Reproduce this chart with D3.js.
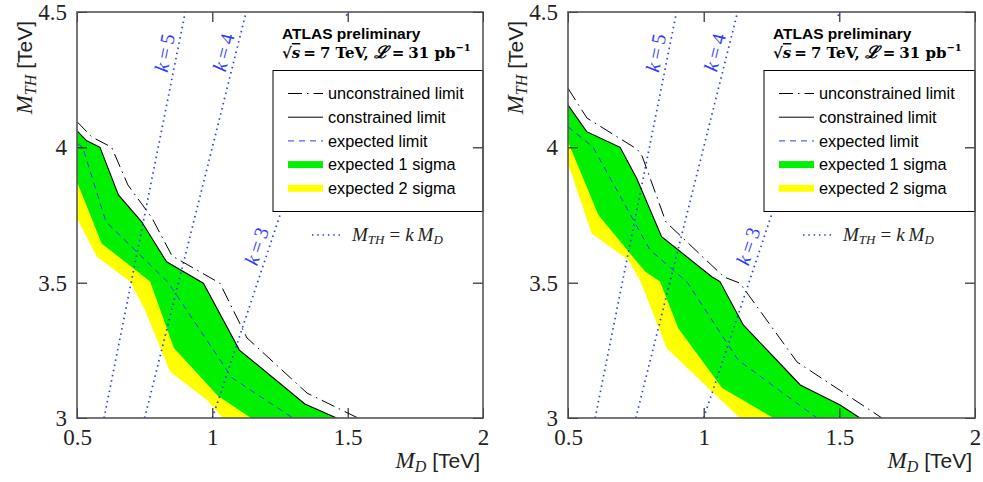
<!DOCTYPE html>
<html>
<head>
<meta charset="utf-8">
<script src="https://cdn.jsdelivr.net/npm/d3@7"></script>
<style>
  body { margin: 0; background: #fff; }
  svg { display: block; }
</style>
</head>
<body>
<svg id="chart" width="983" height="482"></svg>
<script>
var mdTicks = [0.5, 1, 1.5, 2];
var mthTicks = [3, 3.5, 4, 4.5];
var kValues = [5, 4, 3];

// left plot, [M_D, M_TH] in TeV
var leftUnconstrained = [[0.5, 4.095], [0.554, 4.039], [0.628, 4.0], [0.688, 3.861], [0.777, 3.739], [0.851, 3.599], [1.028, 3.498], [1.128, 3.296], [1.35, 3.092], [1.538, 3.0]];
var leftConstrained = [[0.5, 4.061], [0.536, 4.024], [0.585, 4.0], [0.653, 3.824], [0.739, 3.725], [0.831, 3.577], [0.967, 3.498], [1.1, 3.251], [1.342, 3.052], [1.459, 3.0]];
var leftExpected = [[0.5, 4.015], [0.521, 4.0], [0.607, 3.725], [0.836, 3.502], [1.073, 3.148], [1.298, 3.0]];
var leftSigma1Low = [[0.5, 3.873], [0.591, 3.645], [0.77, 3.504], [0.858, 3.259], [1.021, 3.081], [1.143, 3.0]];
var leftSigma2Low = [[0.5, 3.738], [0.573, 3.596], [0.696, 3.504], [0.751, 3.399], [0.844, 3.171], [0.979, 3.067], [1.039, 3.0]];

// right plot
var rightUnconstrained = [[0.5, 4.218], [0.57, 4.108], [0.755, 3.993], [0.773, 3.968], [0.861, 3.724], [1.075, 3.521], [1.134, 3.498], [1.344, 3.207], [1.657, 3.0]];
var rightConstrained = [[0.5, 4.156], [0.569, 4.058], [0.692, 4.0], [0.753, 3.886], [0.845, 3.67], [1.03, 3.522], [1.06, 3.504], [1.146, 3.344], [1.356, 3.122], [1.503, 3.048], [1.576, 3.0]];
var rightExpected = [[0.5, 4.076], [0.592, 4.001], [0.802, 3.621], [0.939, 3.502], [1.127, 3.214], [1.418, 3.0]];
var rightSigma1Low = [[0.5, 4.021], [0.612, 3.75], [0.784, 3.541], [0.839, 3.504], [0.907, 3.331], [1.068, 3.111], [1.257, 3.0]];
var rightSigma2Low = [[0.5, 3.941], [0.587, 3.682], [0.722, 3.584], [0.765, 3.51], [0.864, 3.258], [1.011, 3.116], [1.134, 3.0]];

var legendLabels = ["unconstrained limit", "constrained limit", "expected limit", "expected 1 sigma", "expected 2 sigma"];

var GREEN = "#00f000";
var YELLOW = "#ffff00";
var BLUE = "#2a3cff";
var SERIF = "'Liberation Serif', 'DejaVu Serif', serif";
var SANS = "'Liberation Sans', Arial, sans-serif";
var DOTS = "1.5,3.8";

var svg = d3.select("#chart");

drawPanel(0, [77, 483], {
  unc: leftUnconstrained, con: leftConstrained, exp: leftExpected,
  s1: leftSigma1Low, s2: leftSigma2Low
});
drawPanel(1, [568, 975], {
  unc: rightUnconstrained, con: rightConstrained, exp: rightExpected,
  s1: rightSigma1Low, s2: rightSigma2Low
});

function drawPanel(idx, xRange, d) {
  var top = 12, bottom = 418;
  var x = d3.scaleLinear().domain([0.5, 2]).range(xRange);
  var y = d3.scaleLinear().domain([3, 4.5]).range([bottom, top]);
  var x0 = xRange[0], x1 = xRange[1];

  var g = svg.append("g");
  var clipId = "clip" + idx;
  g.append("clipPath").attr("id", clipId)
    .append("rect").attr("x", x0).attr("y", top)
    .attr("width", x1 - x0).attr("height", bottom - top);

  var plot = g.append("g").attr("clip-path", "url(#" + clipId + ")");
  var line = d3.line().x(function(p) { return x(p[0]); }).y(function(p) { return y(p[1]); });

  function band(low) {
    return line(low.concat(d.con.slice().reverse())) + "Z";
  }

  plot.append("path").attr("d", band(d.s2)).attr("fill", YELLOW);
  plot.append("path").attr("d", band(d.s1)).attr("fill", GREEN);

  // M_TH = k M_D lines
  kValues.forEach(function(k) {
    plot.append("path")
      .attr("d", line([[3 / k, 3], [4.5 / k, 4.5]]))
      .attr("fill", "none").attr("stroke", BLUE)
      .attr("stroke-width", 1.7).attr("stroke-dasharray", DOTS);
  });

  plot.append("path").attr("d", line(d.exp))
    .attr("fill", "none").attr("stroke", BLUE).attr("stroke-width", 1)
    .attr("stroke-dasharray", "6,5");
  plot.append("path").attr("d", line(d.con))
    .attr("fill", "none").attr("stroke", "#000").attr("stroke-width", 1.1);
  plot.append("path").attr("d", line(d.unc))
    .attr("fill", "none").attr("stroke", "#000").attr("stroke-width", 1)
    .attr("stroke-dasharray", "14,5,1.5,5");

  // k labels along the lines
  var labelAt = {5: 4.34, 4: 4.34, 3: 3.62};
  kValues.forEach(function(k) {
    var ax = x(3 / k), ay = y(3), bx = x(4.5 / k), by = y(4.5);
    var len = Math.hypot(bx - ax, by - ay);
    var ux = (bx - ax) / len, uy = (by - ay) / len;
    var ang = Math.atan2(uy, ux) * 180 / Math.PI;
    var m = labelAt[k];
    var px = x(m / k) + uy * 12, py = y(m) - ux * 12;
    var t = plot.append("text")
      .attr("transform", "translate(" + px + "," + py + ") rotate(" + ang + ")")
      .attr("text-anchor", "middle").attr("dy", "0.33em")
      .attr("font-family", SERIF).attr("font-size", 20).attr("fill", BLUE);
    t.append("tspan").attr("font-style", "italic").text("k");
    t.append("tspan").attr("dx", 4).text("=");
    t.append("tspan").attr("dx", 4).text(k);
  });

  // legend
  var lg = g.append("g");
  lg.append("rect").attr("x", x0 + 196).attr("y", 17)
    .attr("width", x1 - x0 - 196).attr("height", 194).attr("fill", "#fff");
  lg.append("rect").attr("x", x0 + 196).attr("y", 70.5)
    .attr("width", x1 - x0 - 196).attr("height", 141)
    .attr("fill", "#fff").attr("stroke", "#000").attr("stroke-width", 1);

  lg.append("text").attr("x", x0 + 205).attr("y", 39)
    .attr("font-family", SANS).attr("font-weight", "bold").attr("font-size", 15.5)
    .text("ATLAS preliminary");

  var info = lg.append("text").attr("x", x0 + 205).attr("y", 58)
    .attr("font-family", "'DejaVu Serif', serif").attr("font-weight", "bold").attr("font-size", 15);
  info.append("tspan").text("\u221A");
  info.append("tspan").attr("font-style", "italic")
    .style("text-decoration", "overline").text("s");
  info.append("tspan").attr("dx", 3).text("=");
  info.append("tspan").attr("dx", 4).text("7 TeV,");
  info.append("tspan").attr("dx", 5).attr("font-family", SERIF).attr("font-size", 17)
    .attr("font-style", "italic").text("\u2112");
  info.append("tspan").attr("dx", 4).text("=");
  info.append("tspan").attr("dx", 4).text("31 pb");
  info.append("tspan").attr("font-size", 10).attr("dy", -7).text("\u22121");

  var rowY = d3.range(5).map(function(i) { return 93.5 + i * 23.7; });
  var sx0 = x0 + 211, sx1 = x0 + 246;
  legendLabels.forEach(function(lab, i) {
    var yy = rowY[i];
    if (i < 3) {
      var s = lg.append("line").attr("x1", sx0).attr("x2", sx1)
        .attr("y1", yy).attr("y2", yy).attr("stroke-width", 1);
      if (i === 0) s.attr("stroke", "#000").attr("stroke-dasharray", "14,5,1.5,5");
      if (i === 1) s.attr("stroke", "#000");
      if (i === 2) s.attr("stroke", BLUE).attr("stroke-dasharray", "6,5");
    } else {
      lg.append("rect").attr("x", sx0).attr("y", yy - 3.5)
        .attr("width", sx1 - sx0).attr("height", 7)
        .attr("fill", i === 3 ? GREEN : YELLOW);
    }
    lg.append("text").attr("x", x0 + 251).attr("y", yy).attr("dy", "0.35em")
      .attr("font-family", SANS).attr("font-size", 16.3).text(lab);
  });

  lg.append("line").attr("x1", x0 + 235).attr("x2", x0 + 263)
    .attr("y1", 235).attr("y2", 235)
    .attr("stroke", BLUE).attr("stroke-width", 1.7).attr("stroke-dasharray", DOTS);
  var kt = lg.append("text").attr("x", x0 + 275).attr("y", 240.5)
    .attr("font-family", SERIF).attr("font-size", 19).attr("font-style", "italic").attr("fill", "#222");
  kt.append("tspan").text("M");
  kt.append("tspan").attr("font-size", 13).attr("dy", 3.5).text("TH");
  kt.append("tspan").attr("dy", -3.5).attr("dx", 5).attr("font-style", "normal").text("=");
  kt.append("tspan").attr("dx", 5).text("k");
  kt.append("tspan").attr("dx", 4).text("M");
  kt.append("tspan").attr("font-size", 13).attr("dy", 3.5).text("D");

  // axes with inward ticks
  var fmt = d3.format("");
  var ax = g.append("g").attr("transform", "translate(0," + bottom + ")")
    .call(d3.axisBottom(x).tickValues(mdTicks).tickFormat(fmt).tickSize(-10).tickPadding(11));
  var ay = g.append("g").attr("transform", "translate(" + x0 + ",0)")
    .call(d3.axisLeft(y).tickValues(mthTicks).tickFormat(fmt).tickSize(-10).tickPadding(10));
  var at = g.append("g").attr("transform", "translate(0," + top + ")")
    .call(d3.axisTop(x).tickValues(mdTicks).tickFormat("").tickSize(-10));
  var ar = g.append("g").attr("transform", "translate(" + x1 + ",0)")
    .call(d3.axisRight(y).tickValues(mthTicks).tickFormat("").tickSize(-10));
  [ax, ay, at, ar].forEach(function(a) {
    a.select(".domain").remove();
    a.selectAll("line").attr("stroke", "#000");
    a.selectAll("text").attr("font-family", SERIF).attr("font-size", 23).attr("fill", "#222");
  });

  g.append("rect").attr("x", x0).attr("y", top)
    .attr("width", x1 - x0).attr("height", bottom - top)
    .attr("fill", "none").attr("stroke", "#555").attr("stroke-width", 1.6);

  // axis titles
  var xt = g.append("text").attr("x", x1 - 3).attr("y", 468)
    .attr("text-anchor", "end").attr("font-size", 23).attr("fill", "#222");
  xt.append("tspan").attr("font-family", SERIF).attr("font-style", "italic").text("M");
  xt.append("tspan").attr("font-family", SERIF).attr("font-style", "italic")
    .attr("font-size", 16).attr("dy", 4).text("D");
  xt.append("tspan").attr("font-family", SANS).attr("font-size", 21).attr("dy", -4).text(" [TeV]");

  var yt = g.append("text")
    .attr("transform", "translate(" + (x0 - 45) + ",21) rotate(-90)")
    .attr("text-anchor", "end").attr("font-size", 23).attr("fill", "#222");
  yt.append("tspan").attr("font-family", SERIF).attr("font-style", "italic").text("M");
  yt.append("tspan").attr("font-family", SERIF).attr("font-style", "italic")
    .attr("font-size", 16).attr("dy", 4).text("TH");
  yt.append("tspan").attr("font-family", SANS).attr("font-size", 21).attr("dy", -4).text(" [TeV]");
}
</script>
</body>
</html>
